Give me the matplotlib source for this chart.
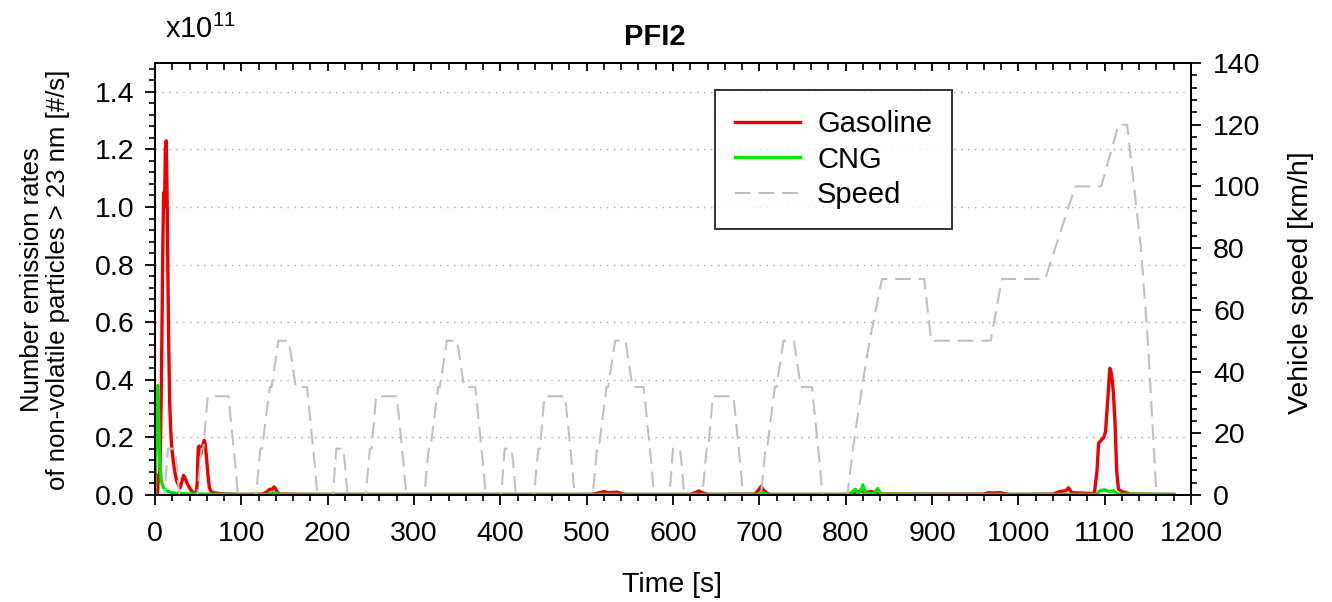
import matplotlib
matplotlib.use("Agg")
import matplotlib.pyplot as plt
from matplotlib.ticker import MultipleLocator, FormatStrFormatter, NullFormatter

plt.rcParams['font.family'] = ['Liberation Sans', 'DejaVu Sans']
plt.rcParams['mathtext.fontset'] = 'custom'
plt.rcParams['mathtext.rm'] = 'Liberation Sans'

# ---------------- data ----------------
speed_t = [0, 11, 15, 23, 25, 28, 49, 54, 56, 61, 85, 93, 96, 117, 122, 124, 133, 135, 143, 155, 163, 176, 185, 188,
           195, 206, 210, 218, 220, 223, 244, 249, 251, 256, 280, 288, 291, 312, 317, 319, 328, 330, 338, 350, 358, 371, 380, 383,
           390, 401, 405, 413, 415, 418, 439, 444, 446, 451, 475, 483, 486, 507, 512, 514, 523, 525, 533, 545, 553, 566, 575, 578,
           585, 596, 600, 608, 610, 613, 634, 639, 641, 646, 670, 678, 681, 702, 707, 709, 718, 720, 728, 740, 748, 761, 770, 773,
           780, 802, 809, 819, 827, 842, 891, 899, 968, 981, 1031, 1066, 1096, 1116, 1126, 1142, 1150, 1160, 1180]
speed_v = [0, 0, 15, 15, 10, 0, 0, 15, 15, 32, 32, 10, 0, 0, 15, 15, 35, 35, 50, 50, 35, 35, 10, 0,
           0, 0, 15, 15, 10, 0, 0, 15, 15, 32, 32, 10, 0, 0, 15, 15, 35, 35, 50, 50, 35, 35, 10, 0,
           0, 0, 15, 15, 10, 0, 0, 15, 15, 32, 32, 10, 0, 0, 15, 15, 35, 35, 50, 50, 35, 35, 10, 0,
           0, 0, 15, 15, 10, 0, 0, 15, 15, 32, 32, 10, 0, 0, 15, 15, 35, 35, 50, 50, 35, 35, 10, 0,
           0, 0, 16, 35, 49, 70, 70, 50, 50, 70, 70, 100, 100, 120, 120, 80, 50, 0, 0]

gas_t = [0, 3, 4, 5, 6, 7, 8, 9, 10, 11, 12, 13, 14, 15, 16, 17, 18, 19, 20, 21, 23, 25, 27, 29, 31, 33, 35, 37, 39,
         41, 43, 45, 48, 49, 50, 51, 52, 53, 54, 55, 56, 57, 58, 59, 60, 61, 62, 63, 65, 68, 75, 85, 100, 125, 130,
         133, 136, 138, 140, 142, 145, 200, 300, 400, 505, 515, 520, 525, 535, 545, 620, 627, 630, 634, 640, 695,
         700, 702, 704, 708, 712, 800, 812, 818, 822, 830, 840, 960, 965, 972, 978, 990, 1040, 1048, 1055, 1058,
         1062, 1088, 1091, 1093, 1096, 1099, 1101, 1104, 1106, 1108, 1110, 1112, 1114, 1116, 1120, 1125, 1130, 1180]
gas_v = [0.0, 0.005, 0.07, 0.06, 0.12, 0.3, 0.55, 0.85, 1.05, 1.0, 1.2, 1.23, 1.05, 0.75, 0.5, 0.32, 0.24, 0.18,
         0.15, 0.12, 0.08, 0.05, 0.035, 0.025, 0.045, 0.068, 0.058, 0.042, 0.03, 0.02, 0.012, 0.008, 0.006, 0.05,
         0.16, 0.17, 0.155, 0.14, 0.16, 0.17, 0.18, 0.19, 0.18, 0.15, 0.12, 0.08, 0.05, 0.025, 0.012, 0.008, 0.005,
         0.003, 0.002, 0.003, 0.012, 0.02, 0.02, 0.028, 0.02, 0.008, 0.003, 0.002, 0.002, 0.002, 0.002, 0.008,
         0.012, 0.008, 0.01, 0.002, 0.002, 0.01, 0.014, 0.008, 0.002, 0.003, 0.02, 0.03, 0.02, 0.008, 0.002, 0.002,
         0.01, 0.015, 0.008, 0.012, 0.003, 0.003, 0.008, 0.007, 0.008, 0.002, 0.003, 0.012, 0.015, 0.025, 0.008,
         0.005, 0.08, 0.18, 0.19, 0.2, 0.22, 0.35, 0.44, 0.42, 0.36, 0.25, 0.08, 0.02, 0.012, 0.008, 0.003, 0.002]

cng_t = [0, 1, 2, 3, 4, 5, 6, 7, 8, 10, 12, 15, 20, 25, 30, 40, 60, 100, 130, 137, 145, 300, 500, 700, 703, 710,
         805, 811, 814, 818, 820, 823, 833, 837, 841, 900, 1090, 1095, 1100, 1105, 1110, 1115, 1180]
cng_v = [0.0, 0.15, 0.33, 0.38, 0.3, 0.16, 0.1, 0.06, 0.04, 0.025, 0.018, 0.012, 0.008, 0.006, 0.005, 0.004, 0.003,
         0.002, 0.002, 0.008, 0.002, 0.002, 0.002, 0.002, 0.008, 0.002, 0.002, 0.02, 0.005, 0.015, 0.035, 0.005,
         0.005, 0.022, 0.003, 0.002, 0.002, 0.015, 0.018, 0.012, 0.015, 0.003, 0.002]

# ---------------- figure ----------------
fig = plt.figure(figsize=(13.32, 6.02), dpi=100)
L, R, B, T = 155 / 1332, 1191 / 1332, 1 - 495 / 602, 1 - 63 / 602
ax = fig.add_axes([L, B, R - L, T - B])
ax2 = ax.twinx()

red = '#ee0000'
green = '#00e600'
grey = '#c0c0c0'

l1, = ax.plot(gas_t, gas_v, color=red, lw=2.4, zorder=3)
l2, = ax.plot(cng_t, cng_v, color=green, lw=2.4, zorder=4)
l3, = ax2.plot(speed_t, speed_v, color=grey, lw=1.5, dashes=(7.5, 3.8), zorder=2)

ax.set_xlim(0, 1200)
ax.set_ylim(0, 1.5)
ax2.set_ylim(0, 140)

ax.xaxis.set_major_locator(MultipleLocator(100))
ax.xaxis.set_minor_locator(MultipleLocator(20))
ax.yaxis.set_major_locator(MultipleLocator(0.2))
ax.yaxis.set_minor_locator(MultipleLocator(0.04))
ax.yaxis.set_major_formatter(FormatStrFormatter('%.1f'))
ax2.yaxis.set_major_locator(MultipleLocator(20))
ax2.yaxis.set_minor_locator(MultipleLocator(4))

fs = 20.5
ax.tick_params(axis='x', which='both', bottom=True, top=False, labelsize=fs, pad=12, direction='out')
ax.tick_params(axis='x', which='major', length=7, width=1.3)
ax.tick_params(axis='x', which='minor', length=4, width=1.2)
ax.tick_params(axis='y', which='both', left=True, right=False, labelsize=fs, pad=8, direction='out')
ax.tick_params(axis='y', which='major', length=7, width=1.3)
ax.tick_params(axis='y', which='minor', length=4, width=1.2)
ax2.tick_params(axis='y', which='both', labelsize=fs, pad=9, direction='out')
ax2.tick_params(axis='y', which='major', length=7, width=1.3)
ax2.tick_params(axis='y', which='minor', length=4, width=1.2)

# top ticks pointing inward
sec = ax.secondary_xaxis('top')
sec.xaxis.set_major_locator(MultipleLocator(100))
sec.xaxis.set_minor_locator(MultipleLocator(20))
sec.xaxis.set_major_formatter(NullFormatter())
sec.tick_params(axis='x', which='major', direction='in', length=6, width=1.3)
sec.tick_params(axis='x', which='minor', direction='in', length=5, width=1.2)

for sp in list(ax.spines.values()) + list(ax2.spines.values()) + list(sec.spines.values()):
    sp.set_linewidth(1.4)

ax.grid(axis='y', which='major', linestyle=(0, (1, 4)), color='#a8a8a8', lw=1.0)
ax.set_axisbelow(True)

# labels
fig.text(45 / 1332, 1 - 280 / 602, 'Number emission rates\nof non-volatile particles > 23 nm [#/s]',
         rotation=90, ha='center', va='center', fontsize=18.5, linespacing=1.1, multialignment='center')
fig.text(1301 / 1332, 1 - 283 / 602, 'Vehicle speed [km/h]', rotation=90, ha='center', va='center', fontsize=fs)
fig.text(672 / 1332, 1 - 585 / 602, 'Time [s]', ha='center', va='center', fontsize=fs)
fig.text(655 / 1332, 1 - 37 / 602, 'PFI2', ha='center', va='center', fontsize=21, fontweight='bold')
fig.text(165 / 1332, 1 - 38 / 602, r'x10$^{11}$', ha='left', va='baseline', fontsize=21)

leg = ax2.legend([l1, l2, l3], ['Gasoline', 'CNG', 'Speed'], loc='upper left',
                 bbox_to_anchor=(0.5405, 0.9375), borderaxespad=0, fontsize=21, frameon=True,
                 fancybox=False, edgecolor='black', handlelength=2.2, handletextpad=0.6,
                 labelspacing=0.25, borderpad=0.7)
leg.get_frame().set_linewidth(1.4)

fig.savefig('out.png', dpi=100)
